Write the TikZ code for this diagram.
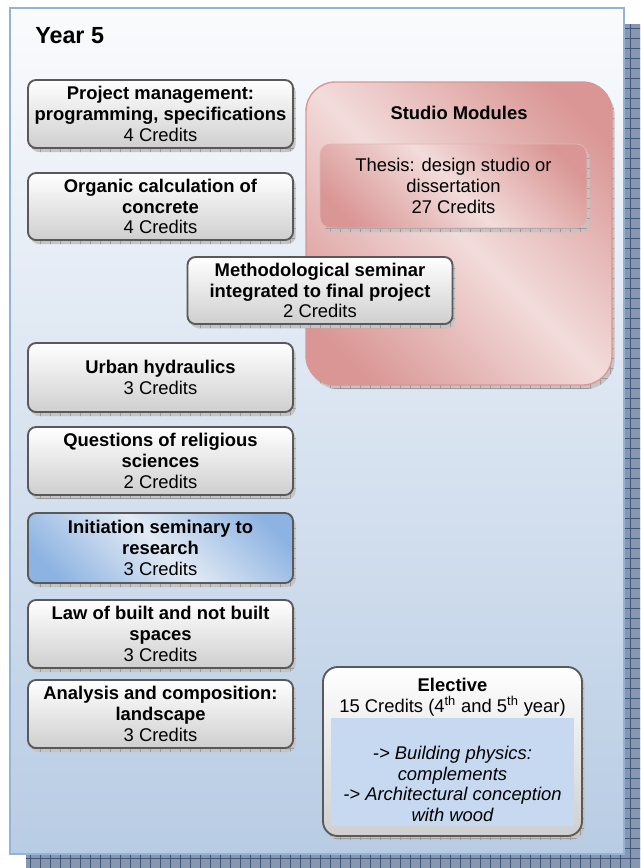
\documentclass[tikz,border=0pt]{standalone}
\usepackage{fontspec}
\setmainfont{Liberation Sans}
\usetikzlibrary{patterns.meta,shadows}

\definecolor{panelline}{HTML}{95B3D7}
\definecolor{paneltop}{HTML}{FAFBFD}
\definecolor{panelbot}{HTML}{B8CCE4}
\definecolor{gridfill}{HTML}{8797B0}
\definecolor{gridline}{HTML}{41577A}
\definecolor{boxline}{HTML}{595959}
\definecolor{boxbot}{HTML}{CFCFCF}
\definecolor{shfill}{HTML}{C4C4C4}
\definecolor{shline}{HTML}{9A9A9A}
\definecolor{reddark}{HTML}{D99694}
\definecolor{redlight}{HTML}{F2DCDB}
\definecolor{bluedark}{HTML}{8DB3E2}
\definecolor{bluelight}{HTML}{E2EAF4}
\definecolor{notefill}{HTML}{C6D9F1}

\pgfdeclarehorizontalshading{redglow}{100bp}{color(0bp)=(reddark); color(22bp)=(reddark); color(50bp)=(redlight); color(78bp)=(reddark); color(100bp)=(reddark)}
\pgfdeclarehorizontalshading{blueglow}{100bp}{color(0bp)=(bluedark); color(22bp)=(bluedark); color(50bp)=(bluelight); color(78bp)=(bluedark); color(100bp)=(bluedark)}

\newcommand\coursefont{\fontsize{13.8}{15.6}\selectfont}
\newcommand\yearfont{\fontsize{17.5}{20}\selectfont}

\tikzset{
  gridshadow/.style={
    general shadow={shadow xshift=2pt, shadow yshift=-3pt, fill=shfill},
    general shadow={shadow xshift=2pt, shadow yshift=-3pt,
      pattern={Lines[angle=90,distance=7.5pt,line width=0.5pt]}, pattern color=shline},
    general shadow={shadow xshift=2pt, shadow yshift=-3pt,
      pattern={Lines[angle=0,distance=7.5pt,line width=0.5pt]}, pattern color=shline}},
  course/.style={rectangle, rounded corners=6pt, draw=boxline, line width=1.4pt,
    top color=white, bottom color=boxbot, gridshadow,
    minimum width=198.75pt, minimum height=51pt, inner sep=0pt,
    align=center, font=\coursefont},
  panel/.style={rectangle, draw=panelline, line width=2pt,
    top color=paneltop, bottom color=panelbot, inner sep=0pt},
  studio/.style={rectangle, rounded corners=22pt, draw=reddark, line width=1pt,
    shading=redglow, shading angle=45, gridshadow, inner sep=0pt},
  thesis/.style={rectangle, rounded corners=8pt, draw=reddark!70, line width=0.6pt,
    shading=redglow, shading angle=45, gridshadow, inner sep=0pt,
    align=center, font=\coursefont},
  plain/.style={align=center, font=\coursefont, inner sep=0pt}
}

\begin{document}
\begin{tikzpicture}[x=0.75pt,y=-0.75pt]
\useasboundingbox (0,0) rectangle (640,868);

% textured shadow behind the panel
\path[fill=gridfill] (26,24) rectangle (640,868);
\path[pattern={Lines[angle=0,distance=7.5pt,line width=0.7pt]}, pattern color=gridline] (26,24) rectangle (640,868);
\path[pattern={Lines[angle=90,distance=7.5pt,line width=0.7pt]}, pattern color=gridline] (26,24) rectangle (640,868);

% the year panel
\node[panel, minimum width=460.5pt, minimum height=634.5pt] (panel) at (317,431) {};
\node[anchor=base west, font=\yearfont\bfseries, inner sep=0pt] (year) at (35,43) {Year 5};

% studio modules
\node[studio, minimum width=229.5pt, minimum height=227.25pt] (studio) at (459,233.5) {};
\node[plain] (studiotitle) at (459,113) {\textbf{Studio Modules}};
\node[thesis, minimum width=200.25pt, minimum height=63pt] (thesis) at (453.5,186)
  {Thesis: design studio or\\dissertation\\27 Credits};

% courses
\node[course] (pm) at (160.5,114)
  {\textbf{Project management:}\\\textbf{programming, specifications}\\4 Credits};
\node[course, minimum height=50.25pt] (concrete) at (160.5,206.5)
  {\textbf{Organic calculation of}\\\textbf{concrete}\\4 Credits};
\node[course, minimum height=50.25pt] (method) at (320,290.5)
  {\textbf{Methodological seminar}\\\textbf{integrated to final project}\\2 Credits};
\node[course, minimum height=51.75pt] (hydro) at (160.5,377.5)
  {\textbf{Urban hydraulics}\\3 Credits};
\node[course] (relig) at (160.5,461)
  {\textbf{Questions of religious}\\\textbf{sciences}\\2 Credits};
\node[course, minimum height=52.5pt, shading=blueglow, shading angle=45] (research) at (160.5,548)
  {\textbf{Initiation seminary to}\\\textbf{research}\\3 Credits};
\node[course] (law) at (160.5,634)
  {\textbf{Law of built and not built}\\\textbf{spaces}\\3 Credits};
\node[course] (landscape) at (160.5,714)
  {\textbf{Analysis and composition:}\\\textbf{landscape}\\3 Credits};

% elective
\node[course, minimum width=194.25pt, minimum height=126.75pt, rounded corners=11pt] (elective) at (452.5,751.5) {};
\node[plain] (electivehead) at (452.5,697)
  {\textbf{Elective}\\15 Credits (4\textsuperscript{th} and 5\textsuperscript{th} year)};
\node[rectangle, fill=notefill, minimum width=182.25pt, minimum height=81pt, inner sep=0pt] (notearea) at (452.5,772) {};
\node[plain, font=\coursefont\itshape] (notetext) at (452.5,784)
  {-> Building physics:\\complements\\-> Architectural conception\\with wood};
\end{tikzpicture}
\end{document}
